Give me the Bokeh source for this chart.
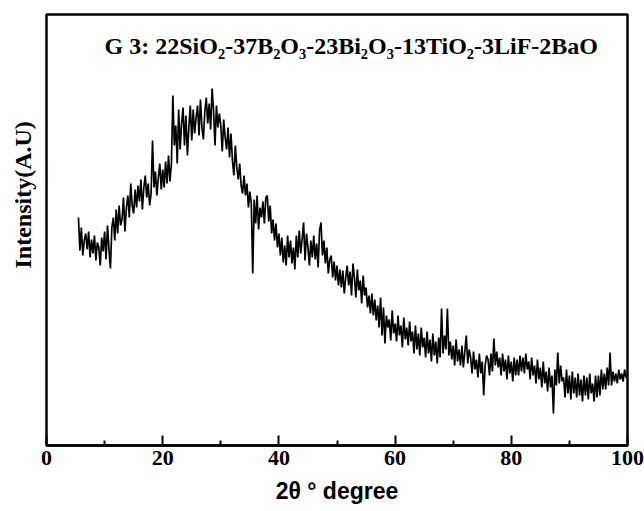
from bokeh.plotting import figure
from bokeh.models import Range1d, FixedTicker, Label, Title
from bokeh.embed import file_html
from bokeh.resources import INLINE

# 2-theta start and step (degrees)
two_theta_start = 5.5
two_theta_step = 0.25

# intensity (A.U.), one value per 0.25 degree from 5.5
intensity = [
    228, 195,
    218, 190, 205, 212,
    196, 214, 188, 206,
    192, 210, 185, 203,
    198, 180, 208, 194,
    214, 186, 220, 196,
    177, 218, 228, 205,
    236, 212, 240, 220,
    226, 248, 214, 238,
    250, 228, 262, 240,
    232, 256, 238, 260,
    244, 266, 236, 258,
    270, 248, 262, 240,
    252, 305, 258, 274,
    250, 268, 282, 256,
    276, 258, 284, 262,
    290, 264, 282, 350,
    300, 320, 282, 336,
    296, 322, 338, 300,
    330, 290, 318, 340,
    305, 336, 312, 328,
    340, 310, 346, 318,
    306, 334, 348, 322,
    342, 316, 357, 335,
    300, 340, 318, 332,
    320, 294, 326, 308,
    296, 318, 288, 312,
    285, 270, 300, 278,
    266, 282, 260, 252,
    270, 250, 262, 238,
    254, 242, 172, 246,
    222, 250, 216, 238,
    228, 244, 222, 248,
    250, 224, 240, 212,
    226, 205, 222, 198,
    212, 190, 208, 183,
    200, 180, 210, 188,
    205, 182, 198, 176,
    210, 188, 215, 192,
    206, 223, 185, 212,
    198, 180, 205, 188,
    210, 186, 202, 178,
    215, 223, 190, 205,
    182, 198, 172, 186,
    190, 168, 184, 165,
    180, 160, 176, 158,
    175, 152, 168, 180,
    160, 174, 150, 182,
    168, 148, 176, 155,
    165, 142, 170, 150,
    158, 138, 150, 132,
    152, 130, 146, 125,
    140, 118, 148, 110,
    138, 102, 130, 118,
    126, 105, 135, 112,
    122, 104, 130, 110,
    120, 98, 128, 106,
    118, 100, 124, 104,
    114, 92, 120, 96,
    112, 90, 118, 98,
    108, 88, 114, 92,
    106, 84, 112, 90,
    104, 82, 108, 88,
    137, 92, 110, 96,
    137, 90, 104, 86,
    100, 80, 106, 84,
    96, 80, 100, 78,
    94, 110, 82, 96,
    88, 72, 94, 76,
    86, 68, 92, 72,
    84, 50, 80, 90,
    86, 70, 92, 74,
    107, 80, 94, 78,
    88, 70, 92, 74,
    86, 66, 90, 72,
    84, 64, 88, 70,
    86, 70, 90, 74,
    88, 72, 92, 76,
    84, 66, 88, 70,
    80, 62, 86, 66,
    78, 58, 84, 62,
    74, 54, 78, 58,
    70, 32, 76, 60,
    93, 62, 80, 64,
    68, 48, 76, 52,
    70, 46, 74, 52,
    68, 48, 72, 50,
    66, 44, 70, 50,
    68, 46, 72, 52,
    62, 44, 70, 48,
    70, 50, 76, 56,
    72, 56, 78, 60,
    93, 60, 74, 64,
    72, 62, 76, 66,
    72, 64, 76, 68,
    70,
]
two_theta = [two_theta_start + i * two_theta_step for i in range(len(intensity))]

major_ticks = [0, 20, 40, 60, 80, 100]
minor_ticks = [10, 30, 50, 70, 90]

title_text = "G 3: 22SiO\u2082-37B\u2082O\u2083-23Bi\u2082O\u2083-13TiO\u2082-3LiF-2BaO"
x_label = "2\u03b8 \u00b0 degree"
y_label = "Intensity(A.U)"

p = figure(width=644, height=511, output_backend="svg", toolbar_location=None,
           x_range=Range1d(0, 100), y_range=Range1d(0, 431))
p.min_border_left = 45
p.min_border_right = 17
p.min_border_top = 14
p.min_border_bottom = 66
p.background_fill_color = "white"
p.border_fill_color = "white"
p.xgrid.visible = False
p.ygrid.visible = False
p.outline_line_color = "black"
p.outline_line_width = 2.5
p.outline_line_alpha = 1

p.yaxis.visible = False

ax = p.xaxis[0]
ax.ticker = FixedTicker(ticks=major_ticks, minor_ticks=minor_ticks)
ax.axis_line_width = 2.5
ax.axis_line_color = "black"
ax.major_tick_in = 10
ax.major_tick_out = 0
ax.minor_tick_in = 5
ax.minor_tick_out = 0
ax.major_tick_line_width = 2
ax.minor_tick_line_width = 2
ax.major_label_text_font = "Liberation Serif"
ax.major_label_text_font_style = "bold"
ax.major_label_text_font_size = "22px"
ax.major_label_text_color = "black"
ax.major_label_standoff = 5
ax.axis_label = x_label
ax.axis_label_text_font = "Liberation Sans"
ax.axis_label_text_font_style = "bold"
ax.axis_label_text_font_size = "23px"
ax.axis_label_text_color = "black"
ax.axis_label_standoff = 10

p.add_layout(Title(text=y_label, align="left", offset=177, vertical_align="top",
                   text_font="Liberation Serif", text_font_style="bold",
                   text_font_size="24px", text_color="black", standoff=18), "left")

p.line(two_theta, intensity, line_color="black", line_width=1.7)

p.add_layout(Label(x=10.0, y=400, text=title_text, text_font="Liberation Serif",
                   text_font_style="bold", text_font_size="24px", text_color="black",
                   text_baseline="alphabetic", text_align="left"))

open("out.html", "w").write(file_html(p, INLINE))
